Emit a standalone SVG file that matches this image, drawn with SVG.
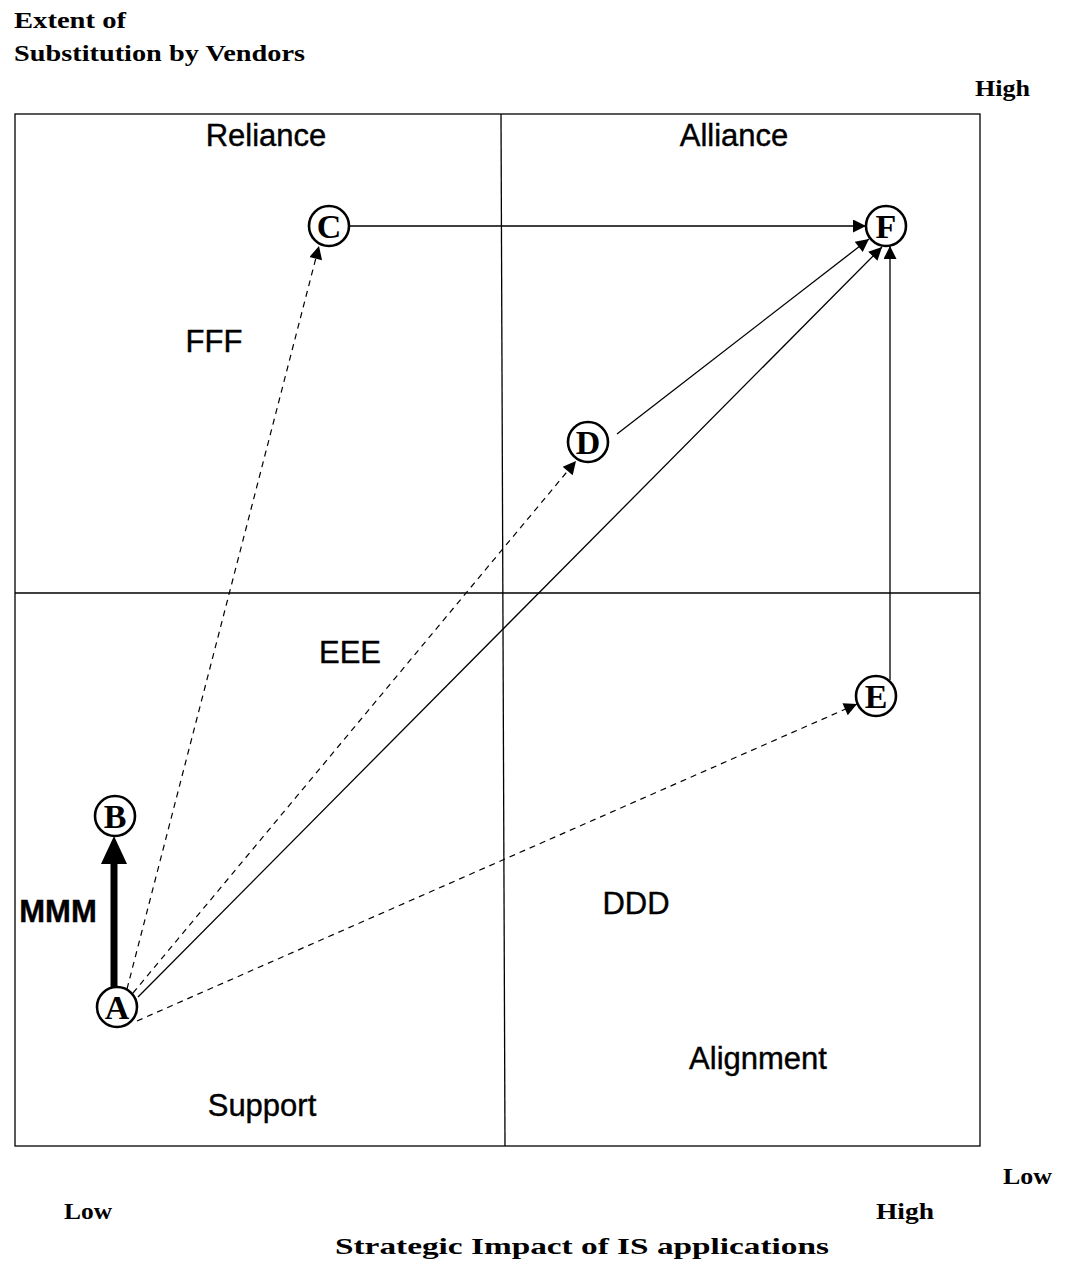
<svg xmlns="http://www.w3.org/2000/svg" width="1065" height="1269" viewBox="0 0 1065 1269">
  <style>
    .axis { font-family: "Liberation Serif", "DejaVu Serif", serif; font-weight: bold; font-size: 24px; fill: #000; }
    .quad { font-family: "Liberation Sans", Arial, sans-serif; font-size: 31px; fill: #000; stroke: #000; stroke-width: 0.4; }
    .frame { fill: none; stroke: #000; stroke-width: 1.3; }
    .node circle { fill: #fff; stroke: #000; stroke-width: 2.6; }
    .node text { font-family: "Liberation Serif", "DejaVu Serif", serif; font-weight: bold; font-size: 34px; text-anchor: middle; fill: #000; }
    .solid { stroke: #000; stroke-width: 1.3; fill: none; marker-end: url(#arrow); }
    .dashed { stroke: #000; stroke-width: 1.2; fill: none; stroke-dasharray: 6 5; marker-end: url(#arrow); }
  </style>
  <defs>
    <marker id="arrow" viewBox="0 0 10 10" refX="10" refY="5" markerWidth="18" markerHeight="13" markerUnits="userSpaceOnUse" orient="auto">
      <path d="M0,0 L10,5 L0,10 Z" fill="#000"/>
    </marker>
  </defs>
  <rect width="1065" height="1269" fill="#fff"/>

  <!-- axis titles -->
  <text class="axis" x="14" y="28" textLength="112" lengthAdjust="spacingAndGlyphs">Extent of</text>
  <text class="axis" x="14" y="61" textLength="291" lengthAdjust="spacingAndGlyphs">Substitution by Vendors</text>
  <text class="axis" x="975" y="96" textLength="55" lengthAdjust="spacingAndGlyphs">High</text>
  <text class="axis" x="1003" y="1184" textLength="49" lengthAdjust="spacingAndGlyphs">Low</text>
  <text class="axis" x="64" y="1219" textLength="48" lengthAdjust="spacingAndGlyphs">Low</text>
  <text class="axis" x="876" y="1219" textLength="58" lengthAdjust="spacingAndGlyphs">High</text>
  <text class="axis" x="335" y="1254" textLength="494" lengthAdjust="spacingAndGlyphs">Strategic Impact of IS applications</text>

  <!-- quadrant frame -->
  <rect class="frame" x="15" y="114" width="965" height="1032"/>
  <line class="frame" x1="501" y1="114" x2="505" y2="1146"/>
  <line class="frame" x1="15" y1="593" x2="980" y2="593"/>

  <!-- quadrant labels -->
  <text class="quad" x="266" y="146" text-anchor="middle">Reliance</text>
  <text class="quad" x="734" y="146" text-anchor="middle">Alliance</text>
  <text class="quad" x="214" y="352" text-anchor="middle">FFF</text>
  <text class="quad" x="350" y="663" text-anchor="middle">EEE</text>
  <text class="quad" x="636" y="914" text-anchor="middle">DDD</text>
  <text class="quad" x="758" y="1069" text-anchor="middle">Alignment</text>
  <text class="quad" x="262" y="1116" text-anchor="middle">Support</text>
  <text class="quad" x="58" y="922" text-anchor="middle" font-weight="bold" font-size="27">MMM</text>

  <!-- connectors -->
  <g id="connectors">
    <line x1="114" y1="987" x2="114" y2="862" stroke="#000" stroke-width="7"/>
    <path d="M101,864 L114,836 L127,864 Z" fill="#000"/>
    <line class="dashed" x1="127" y1="989" x2="319" y2="246"/>
    <line class="dashed" x1="133" y1="993" x2="576" y2="461"/>
    <line class="solid" x1="138" y1="997" x2="882" y2="247"/>
    <line class="dashed" x1="137" y1="1021" x2="857" y2="704"/>
    <line class="solid" x1="350" y1="226" x2="866" y2="226"/>
    <line class="solid" x1="617" y1="434" x2="869" y2="239"/>
    <line class="solid" x1="890" y1="680" x2="890" y2="246"/>
  </g>

  <!-- nodes -->
  <g id="node-A" class="node"><circle cx="117" cy="1007" r="20"/><text x="117" y="1019">A</text></g>
  <g id="node-B" class="node"><circle cx="115" cy="816" r="20"/><text x="115" y="828">B</text></g>
  <g id="node-C" class="node"><circle cx="329" cy="226" r="20"/><text x="329" y="238">C</text></g>
  <g id="node-D" class="node"><circle cx="588" cy="442" r="20"/><text x="588" y="454">D</text></g>
  <g id="node-E" class="node"><circle cx="876" cy="696" r="20"/><text x="876" y="708">E</text></g>
  <g id="node-F" class="node"><circle cx="886" cy="226" r="20"/><text x="886" y="238">F</text></g>
</svg>
